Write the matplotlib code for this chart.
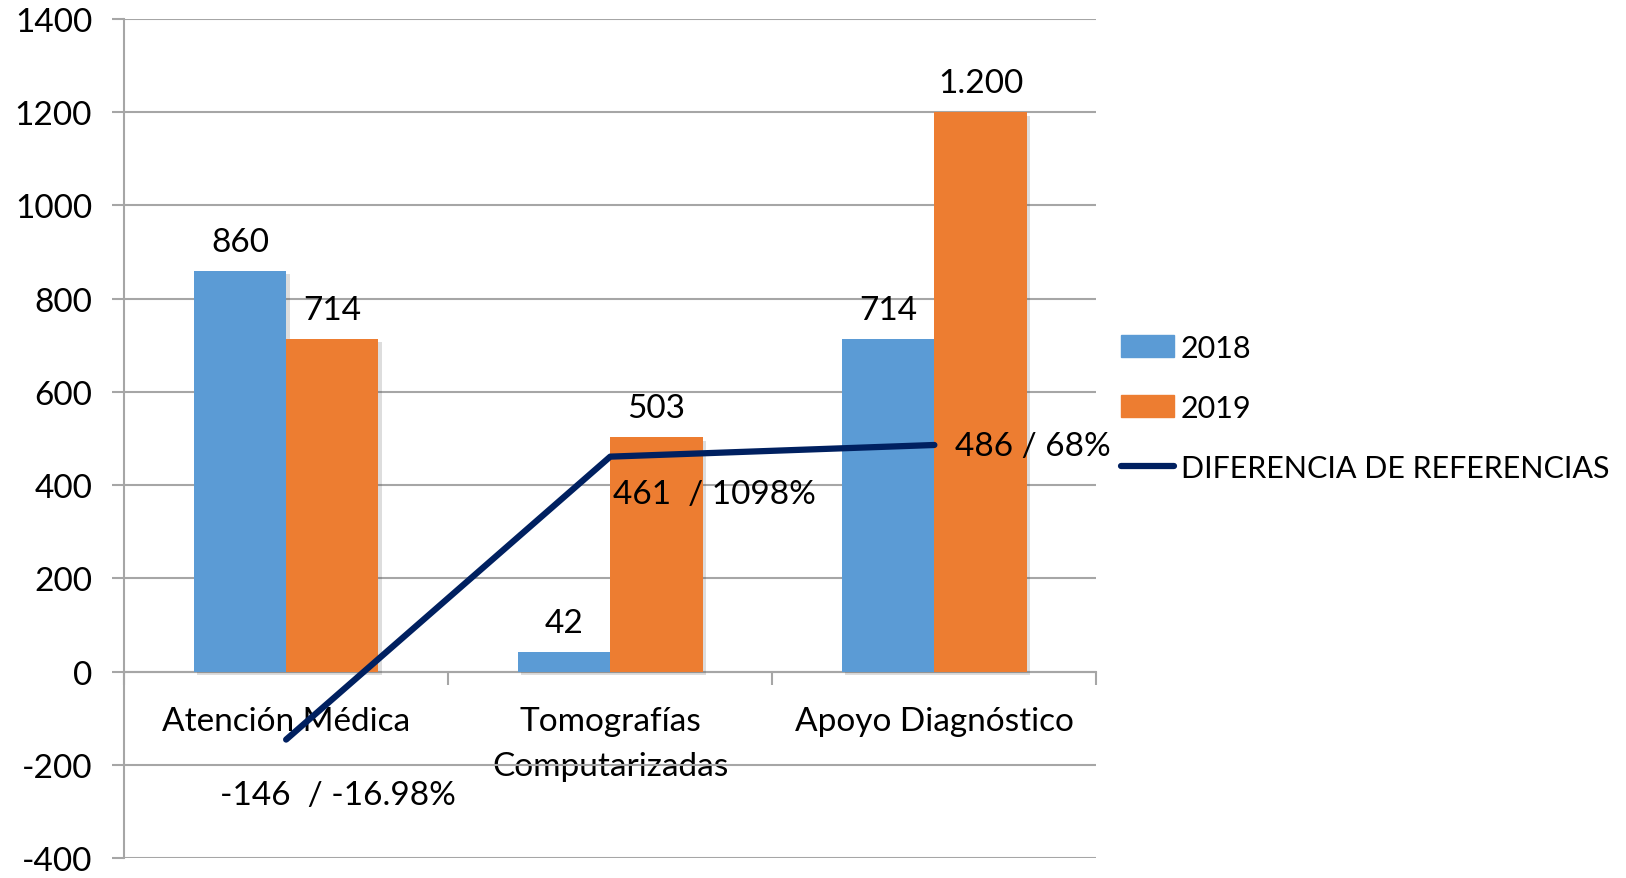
import numpy as np
import matplotlib.pyplot as plt
import matplotlib.patheffects as pe
from matplotlib.lines import Line2D
from matplotlib.patches import Patch

plt.rcParams['font.family'] = ['Lato', 'DejaVu Sans']
plt.rcParams['axes.unicode_minus'] = False

categorias = ["Atención Médica", "Tomografías\nComputarizadas", "Apoyo Diagnóstico"]
v2018 = [860, 42, 714]
v2019 = [714, 503, 1200]
diferencia = [-146, 461, 486]
etiq_2018 = ["860", "42", "714"]
etiq_2019 = ["714", "503", "1.200"]
etiq_dif = ["-146  / -16.98%", "461  / 1098%", "486 / 68%"]

azul = "#5B9BD5"
naranja = "#ED7D31"
marino = "#002060"
gris = "#A6A6A6"
fs = 24

fig = plt.figure(figsize=(16.26, 8.79), dpi=100)
ax = fig.add_axes([0.0763, 0.0228, 0.598, 0.9545])

x = np.arange(len(categorias))
w = 0.285
sombra = [pe.SimplePatchShadow(offset=(2.5, -2.5), alpha=0.18, shadow_rgbFace="#444444"), pe.Normal()]
b1 = ax.bar(x - w / 2, v2018, w, color=azul, zorder=3)
b2 = ax.bar(x + w / 2, v2019, w, color=naranja, zorder=3)
for b in list(b1) + list(b2):
    b.set_path_effects(sombra)

ax.bar_label(b1, labels=etiq_2018, padding=10, fontsize=fs)
ax.bar_label(b2, labels=etiq_2019, padding=10, fontsize=fs)

ax.plot(x, diferencia, color=marino, lw=4.5, solid_capstyle='round', zorder=5)

# etiquetas de la linea
ax.annotate(etiq_dif[0], (x[0], diferencia[0]), xytext=(37, -40), textcoords='offset points',
            ha='center', va='center', fontsize=fs, zorder=6)
ax.annotate(etiq_dif[1], (x[1], diferencia[1]), xytext=(2, -27), textcoords='offset points',
            ha='left', va='center', fontsize=fs, zorder=6)
ax.annotate(etiq_dif[2], (x[2], diferencia[2]), xytext=(15, -1), textcoords='offset points',
            ha='left', va='center', fontsize=fs, zorder=6)

ax.set_xlim(-0.5, 2.5)
ax.set_ylim(-400, 1400)
ax.set_yticks(np.arange(-400, 1401, 200))
ax.yaxis.grid(True, color=gris, lw=1.5, zorder=0)
ax.set_axisbelow(True)
ax.tick_params(axis='y', length=9, width=1.5, color=gris, labelsize=fs, pad=14)

for s in ['top', 'right']:
    ax.spines[s].set_visible(False)
ax.spines['left'].set_color(gris)
ax.spines['left'].set_linewidth(1.5)
ax.spines['bottom'].set_position(('data', 0))
ax.spines['bottom'].set_color(gris)
ax.spines['bottom'].set_linewidth(1.5)

ax.set_xticks(x)
ax.set_xticklabels(categorias, fontsize=fs, linespacing=1.6)
ax.tick_params(axis='x', which='major', length=0, pad=25)
ax.set_xticks([-0.5, 0.5, 1.5, 2.5], minor=True)
ax.tick_params(axis='x', which='minor', length=9, width=1.5, color=gris)

handles = [Patch(color=azul), Patch(color=naranja),
           Line2D([0], [0], color=marino, lw=4.5, solid_capstyle='round')]
fig.legend(handles, ["2018", "2019", "DIFERENCIA DE REFERENCIAS"], loc='center left',
           bbox_to_anchor=(0.6725, 0.535), frameon=False, fontsize=22,
           handlelength=1.75, handletextpad=0.2, labelspacing=1.05)

fig.savefig("out.png", dpi=100)
